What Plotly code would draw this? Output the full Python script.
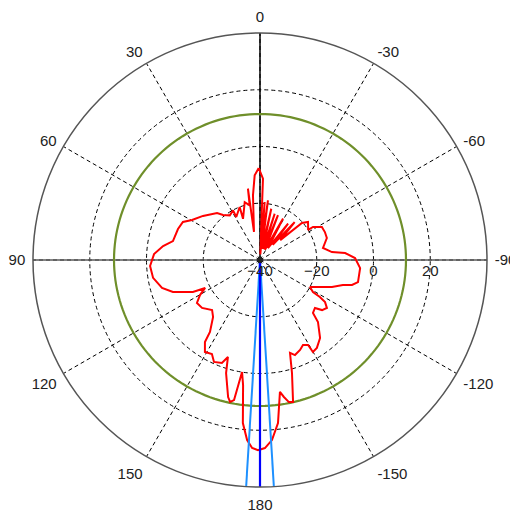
import plotly.graph_objects as go

# Measured antenna pattern (angle in degrees, gain in dB), traced in drawing order
theta_deg = [0.8, 3.6, 6.2, 12.1, 9.6, 10.7, 14.8, 22.4, 21.0, 28.9, 28.5, 34.1, 39.4, 42.5,
             52.3, 59.5, 63.7, 69.3, 77.7, 81.8, 86.8, 93.1, 99.5, 105.9, 110.2, 115.5, 117.0,
             120.3, 124.3, 129.6, 136.2, 140.5, 145.2, 146.1, 149.1, 152.9, 155.7, 159.7, 161.7,
             163.3, 166.9, 168.1, 169.5, 170.9, 172.3, 174.0, 175.9, 177.6, 179.4, 181.5, 183.8,
             186.3, 188.6, 189.9, 191.5, 193.1, 195.8, 197.9, 200.2, 204.0, 206.8, 209.5, 209.9,
             212.9, 217.6, 223.1, 225.0, 228.9, 231.1, 234.4, 237.1, 238.3, 238.9, 241.6, 246.5,
             249.4, 253.2, 254.8, 257.3, 265.4, 271.2, 274.7, 276.3, 280.8, 288.2, 293.3, 298.0,
             301.9, 302.0, 308.4, 311.4, 314.5, 317.6, 320.0, 322.4, 326.0, 330.9, 334.0, 338.1,
             340.0, 342.4, 345.0, 347.6, 350.0, 352.4, 354.0, 355.4, 356.5, 357.9, 357.9, 360.8]
gain_db = [-7.6, -10.1, -17.1, -29.9, -14.5, -20.4, -18.9, -24.3, -20.0, -22.7, -20.1, -21.0, -19.5, -17.6,
           -14.6, -12.2, -9.7, -9.1, -8.6, -5.5, -2.6, -1.2, -1.8, -4.1, -7.3, -13.8, -18.3,
           -15.5, -13.1, -13.5, -15.6, -14.0, -9.1, -5.2, -2.2, -2.8, -0.6, -1.3, -4.0,
           1.6, 9.6, 11.1, 10.2, 0.0, 4.5, 17.8, 23.6, 26.3, 27.0, 26.3, 23.6,
           17.8, 7.0, 9.0, 11.1, 11.4, 1.4, -5.6, -4.3, -5.3, -6.4, -5.6, -2.6,
           -3.1, -5.3, -10.1, -13.6, -14.3, -11.9, -11.0, -12.7, -15.2, -18.2, -20.0, -16.2,
           -12.9, -9.5, -6.4, -4.6, -4.6, -6.5, -9.9, -14.5, -17.4, -15.2, -15.1, -15.3,
           -18.0, -20.0, -18.4, -20.3, -30.0, -21.9, -33.0, -23.8, -35.0, -23.3, -36.0, -23.0,
           -36.0, -22.9, -36.0, -21.5, -36.0, -18.8, -33.0, -19.5, -38.0, -27.8, -11.3, -7.6]

ref_level_db = 11.45
beam_center_deg = 180
beam_edges_deg = [176.5, 183.5]

angle_tickvals = [0, 30, 60, 90, 120, 150, 180, 210, 240, 270, 300, 330]
angle_ticktext = ['0', '30', '60', '90', '120', '150', '180', '-150', '-120', '-90', '-60', '-30']
radial_tickvals = [-40, -20, 0, 20]
r_min, r_max = -40, 40

font = dict(family='Liberation Sans', size=15, color='#222222')

fig = go.Figure()

# solid main axes
fig.add_trace(go.Scatterpolar(r=[r_max, r_min, r_max], theta=[90, 0, 270], mode='lines',
                              line=dict(color='#5a5a5a', width=1.5), hoverinfo='skip'))
fig.add_trace(go.Scatterpolar(r=[r_max, r_min, r_max], theta=[0, 0, 180], mode='lines',
                              line=dict(color='black', width=1.5), hoverinfo='skip'))

# reference level circle
circ_theta = list(range(0, 362, 2))
fig.add_trace(go.Scatterpolar(r=[ref_level_db] * len(circ_theta), theta=circ_theta, mode='lines',
                              line=dict(color='#6f8f2a', width=2.2), hoverinfo='skip'))

# pattern
fig.add_trace(go.Scatterpolar(r=gain_db, theta=theta_deg, mode='lines',
                              line=dict(color='#ff0000', width=2), hoverinfo='skip'))

# beam markers
for e in beam_edges_deg:
    fig.add_trace(go.Scatterpolar(r=[r_min, r_max], theta=[e, e], mode='lines',
                                  line=dict(color='#1e90ff', width=2), hoverinfo='skip'))
fig.add_trace(go.Scatterpolar(r=[r_min, r_max], theta=[beam_center_deg, beam_center_deg], mode='lines',
                              line=dict(color='#0000ff', width=2.2), hoverinfo='skip'))

# centre dot
fig.add_trace(go.Scatterpolar(r=[r_min], theta=[0], mode='markers',
                              marker=dict(color='#222222', size=6), hoverinfo='skip'))

fig.update_layout(
    width=510, height=510,
    margin=dict(l=25, r=31, t=25, b=31),
    paper_bgcolor='white',
    showlegend=False,
    polar=dict(
        bgcolor='white',
        domain=dict(x=[0, 1], y=[0, 1]),
        angularaxis=dict(
            rotation=90, direction='counterclockwise',
            tickmode='array', tickvals=angle_tickvals, ticktext=angle_ticktext,
            showgrid=True, gridcolor='black', gridwidth=1, griddash='4px,3px',
            showline=True, linecolor='#555555', linewidth=1.5,
            ticks='outside', ticklen=4, tickcolor='rgba(0,0,0,0)', tickfont=font,
        ),
        radialaxis=dict(
            range=[r_min, r_max], tickmode='array', tickvals=radial_tickvals,
            showgrid=True, gridcolor='black', gridwidth=1, griddash='4px,3px',
            showline=False, angle=0, side='clockwise', ticks='',
            tickfont=font,
        ),
    ),
)

fig.write_html('out.html')
